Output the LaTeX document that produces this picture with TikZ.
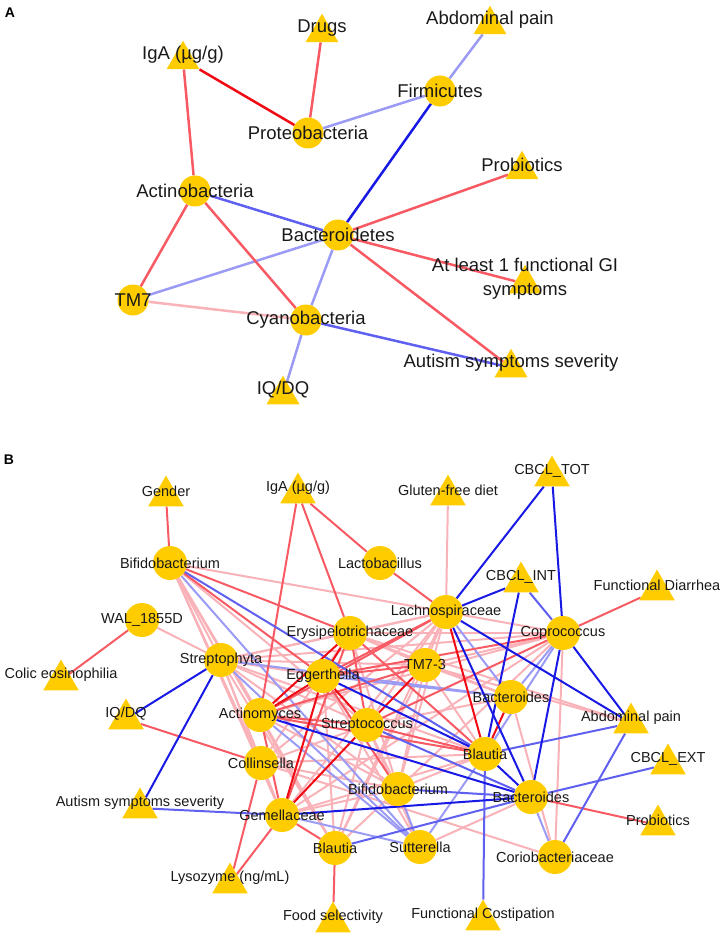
\documentclass[tikz,border=0pt]{standalone}
\usepackage{fontspec}
\setmainfont{Liberation Sans}
\usetikzlibrary{shapes.geometric,backgrounds}

\definecolor{nodegold}{RGB}{255,204,0}
\definecolor{redS}{RGB}{240,10,20}
\definecolor{redM}{RGB}{248,90,100}
\definecolor{redL}{RGB}{249,178,184}
\definecolor{bluS}{RGB}{25,25,230}
\definecolor{bluM}{RGB}{95,95,240}
\definecolor{bluL}{RGB}{155,155,246}
\definecolor{txt}{RGB}{25,25,25}

\tikzset{
  rS/.style={draw=redS}, rM/.style={draw=redM}, rL/.style={draw=redL},
  bS/.style={draw=bluS}, bM/.style={draw=bluM}, bL/.style={draw=bluL},
  bactA/.style={circle, fill=nodegold, inner sep=0pt, minimum size=31pt},
  bactB/.style={circle, fill=nodegold, inner sep=0pt, minimum size=34pt},
  triA/.style={regular polygon, regular polygon sides=3, fill=nodegold, inner sep=0pt, minimum size=38pt, yshift=-4.75pt},
  triB/.style={regular polygon, regular polygon sides=3, fill=nodegold, inner sep=0pt, minimum size=41pt, yshift=-5.1pt},
  txtA/.style={font=\fontsize{18.5}{24}\selectfont, text=txt, align=center, inner sep=0pt},
  txtB/.style={font=\fontsize{14.5}{17}\selectfont, text=txt, align=center, inner sep=0pt},
  panel/.style={font=\bfseries\fontsize{14}{14}\selectfont, inner sep=0pt}
}

\begin{document}
\begin{tikzpicture}[x=1pt,y=-1pt]
\useasboundingbox (0,0) rectangle (725,936);

% panel A
\node[panel] (labA) at (10,13) {A};
\foreach \n/\px/\py/\lbl in {aFirm/440/91/Firmicutes, aProt/308/133/Proteobacteria,
    aActi/195/191/Actinobacteria, aBact/338/235/Bacteroidetes, aTM/133/300/TM7,
    aCyan/306/320/Cyanobacteria}
  {\node[bactA] (\n) at (\px,\py) {}; \node[txtA] (\n-t) at (\n) {\lbl};}
\foreach \n/\px/\py/\lbl in {aDrug/322/28/Drugs, aAbd/490/20/Abdominal pain,
    aIgA/183/55/{IgA (µg/g)}, aProb/522/165/Probiotics,
    aGI/525/279/{At least 1 functional GI\\symptoms}, aAut/511/363/Autism symptoms severity,
    aIQ/283/390/{IQ/DQ}}
  {\node[triA] (\n) at (\px,\py) {}; \node[txtA] (\n-t) at (\px,\py) {\lbl};}

\begin{pgfonlayer}{background}
\foreach \na/\nb/\st in {aTM/aCyan/rL, aAbd/aFirm/bL, aFirm/aProt/bL, aBact/aTM/bL,
    aBact/aCyan/bL, aCyan/aIQ/bL, aIgA/aActi/rM, aDrug/aProt/rM, aProb/aBact/rM,
    aActi/aTM/rM, aActi/aCyan/rM, aBact/aGI/rM, aBact/aAut/rM, aActi/aBact/bM,
    aCyan/aAut/bM, aFirm/aBact/bS, aIgA/aProt/rS}
  \draw[\st, line width=2.5pt] (\na) -- (\nb);
\end{pgfonlayer}

% panel B
\node[panel] (labB) at (9,460) {B};
\foreach \n/\px/\py/\lbl in {bBifT/170/563/Bifidobacterium, bLact/380/563/Lactobacillus,
    bLach/446/612/Lachnospiraceae, bCopr/563/633/Coprococcus,
    bErys/350/633/Erysipelotrichaceae, bWAL/142/620/WAL\_1855D,
    bStph/221/660/Streptophyta, bEgg/323/676/Eggerthella, bTM/425/665/TM7-3,
    bBacU/511/697/Bacteroides, bActi/260/715/Actinomyces, bStrc/367/725/Streptococcus,
    bBlaU/485/754/Blautia, bColl/261/763/Collinsella, bBifL/398/789/Bifidobacterium,
    bBacL/531/797/Bacteroides, bGem/282/815/Gemellaceae, bBlaL/335/848/Blautia,
    bSutt/420/847/Sutterella, bCori/555/857/Coriobacteriaceae}
  {\node[bactB] (\n) at (\px,\py) {}; \node[txtB] (\n-t) at (\n) {\lbl};}
\foreach \n/\px/\py/\lbl in {bGend/166/491/Gender, bIgA/298/488/{IgA (µg/g)},
    bGlut/448/490/Gluten-free diet, bTOT/552/471/CBCL\_TOT, bINT/521/577/CBCL\_INT,
    bFDia/657/585/Functional Diarrhea, bColic/61/675/Colic eosinophilia,
    bIQ/126/714/{IQ/DQ}, bAbd/631/718/Abdominal pain, bEXT/668/759/CBCL\_EXT,
    bProb/658/820/Probiotics, bAut/140/803/Autism symptoms severity,
    bLyso/230/878/{Lysozyme (ng/mL)}, bFood/333/917/Food selectivity,
    bCost/483/915/Functional Costipation}
  {\node[triB] (\n) at (\px,\py) {}; \node[txtB] (\n-t) at (\px,\py) {\lbl};}

\begin{pgfonlayer}{background}
\foreach \na/\nb/\st in {bGlut/bLach/rL, bWAL/bStph/rL, bErys/bAbd/rL, bTM/bAbd/rL,
    bCori/bCopr/rL, bCori/bBacU/rL, bCori/bColl/rL, bSutt/bBacL/rL,
    bLach/bErys/rL, bLach/bStrc/rL, bLach/bGem/rL, bLach/bStph/rL, bLach/bColl/rL,
    bLach/bBifL/rL, bLach/bTM/rL, bLach/bBlaL/rL, bCopr/bErys/rL, bCopr/bTM/rL,
    bCopr/bActi/rL, bCopr/bStph/rL, bCopr/bBifL/rL, bCopr/bGem/rL, bCopr/bLach/rL,
    bErys/bBacU/rL, bErys/bTM/rL, bErys/bColl/rL, bErys/bBifL/rL,
    bStph/bErys/rL, bStph/bEgg/rL, bStph/bTM/rL, bStph/bStrc/rL, bStph/bBlaU/rL,
    bStph/bBifL/rL, bStph/bGem/rL, bStph/bColl/rL, bStph/bBlaL/rL,
    bBifT/bStph/rL, bBifT/bActi/rL, bBifT/bColl/rL, bBifT/bGem/rL, bBifT/bLach/rL,
    bBifT/bBlaL/rL, bBifT/bStrc/rL, bActi/bBifL/rL, bActi/bBlaL/rL,
    bStrc/bBifL/rL, bStrc/bBlaL/rL, bStrc/bSutt/rL, bStrc/bBacU/rL,
    bColl/bStrc/rL, bColl/bBifL/rL, bColl/bBlaU/rL, bColl/bGem/rL,
    bGem/bBifL/rL, bGem/bBlaU/rL, bBlaL/bEgg/rL, bBlaL/bTM/rL, bBlaL/bBifL/rL,
    bBifL/bTM/rL, bBifL/bBlaU/rL, bTM/bBlaU/rL, bTM/bBacU/rL, bEgg/bSutt/rL,
    bCori/bBacL/bL, bLach/bBacU/bL, bBlaU/bSutt/bL, bBifT/bSutt/bL, bCopr/bBlaU/bL,
    bCopr/bBacU/bL, bEgg/bBacU/bL, bStph/bSutt/bL, bStph/bBacU/bL, bActi/bSutt/bL,
    bGem/bSutt/bL, bBifL/bSutt/bL,
    bGend/bBifT/rM, bIgA/bActi/rM, bIgA/bErys/rM, bIgA/bLact/rM, bLact/bLach/rM,
    bFDia/bCopr/rM, bProb/bBacL/rM, bFood/bBlaL/rM, bLyso/bColl/rM, bLyso/bGem/rM,
    bIQ/bColl/rM, bColic/bWAL/rM,
    bErys/bStrc/rM, bActi/bGem/rM, bTM/bEgg/rM, bLach/bEgg/rM, bLach/bActi/rM,
    bCopr/bEgg/rM, bCopr/bStrc/rM, bErys/bBlaU/rM, bErys/bGem/rM, bBifT/bEgg/rM,
    bBifT/bErys/rM, bActi/bTM/rM, bActi/bBlaU/rM, bActi/bStrc/rM, bStrc/bBlaU/rM,
    bGem/bBlaL/rM, bEgg/bBifL/rM,
    bINT/bCopr/bM, bAbd/bBlaU/bM, bAbd/bCori/bM, bEXT/bBacL/bM, bCost/bBlaU/bM,
    bAut/bGem/bM, bBifL/bBacL/bM, bBlaL/bBacL/bM, bStrc/bBacL/bM, bBifT/bBlaU/bM,
    bErys/bEgg/rS, bErys/bActi/rS, bEgg/bActi/rS, bEgg/bStrc/rS, bEgg/bGem/rS,
    bStrc/bGem/rS, bTM/bStrc/rS, bLach/bBlaU/rS, bBacU/bBlaU/rS,
    bTOT/bLach/bS, bTOT/bCopr/bS, bINT/bLach/bS, bINT/bBlaU/bS, bCopr/bAbd/bS,
    bLach/bAbd/bS, bCopr/bBacL/bS, bAut/bStph/bS, bIQ/bStph/bS, bActi/bBacL/bS,
    bEgg/bBlaU/bS, bLach/bBacL/bS, bGem/bBacL/bS, bBlaU/bBacL/bS}
  \draw[\st, line width=2pt] (\na) -- (\nb);
\end{pgfonlayer}
\end{tikzpicture}
\end{document}
